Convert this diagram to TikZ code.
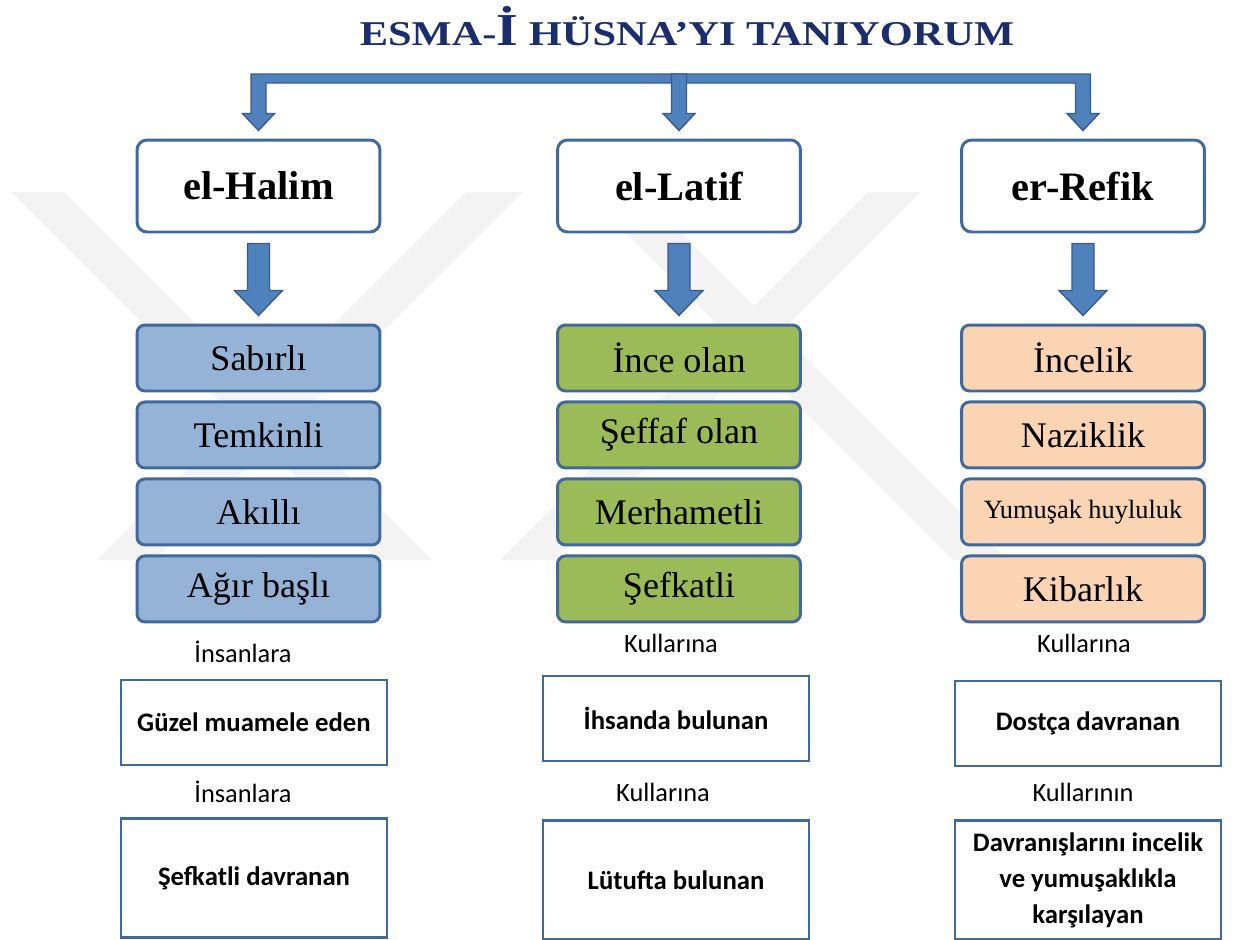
\documentclass[tikz,border=0pt]{standalone}
\usepackage{graphicx}
\usepackage{fontspec}
\setmainfont{Liberation Serif}
\newfontfamily\calibri{Carlito}
\usetikzlibrary{positioning,calc}
\definecolor{navy}{HTML}{1B2D6B}
\definecolor{accblue}{HTML}{4F81BD}
\definecolor{arrline}{HTML}{385D8A}
\definecolor{boxline}{HTML}{41699B}
\definecolor{halimfill}{HTML}{95B3D7}
\definecolor{latiffill}{HTML}{9BBB59}
\definecolor{refikfill}{HTML}{FBD4B4}
\definecolor{wmgray}{HTML}{F3F3F3}
% block arrow pointing down: top point, tip, half shaft, half head, head length
\newcommand{\blockdown}[5]{%
  \draw[blockarr] ($(#1)+(-#3,0)$) -- ($(#2)+(-#3,-#5)$) -- ($(#2)+(-#4,-#5)$) -- (#2)
    -- ($(#2)+(#4,-#5)$) -- ($(#2)+(#3,-#5)$) -- ($(#1)+(#3,0)$) -- cycle;}
\tikzset{
  titletext/.style={text=navy, font=\fontsize{19.8}{22}\selectfont\bfseries, inner sep=0pt},
  headbox/.style={draw=boxline, line width=1.7pt, fill=white, rounded corners=0.2cm,
                  minimum width=4.86cm, minimum height=1.84cm,
                  font=\fontsize{23}{26}\selectfont\bfseries},
  itembox/.style={draw=boxline, line width=1.7pt, rounded corners=0.16cm,
                  minimum width=4.86cm, minimum height=1.32cm,
                  font=\fontsize{20.5}{24}\selectfont},
  halimbox/.style={itembox, fill=halimfill},
  latifbox/.style={itembox, fill=latiffill},
  refikbox/.style={itembox, fill=refikfill},
  lbl/.style={font=\calibri\fontsize{15}{18}\selectfont, inner sep=0pt},
  rectbox/.style={draw=boxline, line width=1.4pt, fill=white, align=center,
                  minimum width=5.32cm, minimum height=1.7cm,
                  font=\calibri\bfseries\fontsize{15.2}{20.5}\selectfont},
  tallbox/.style={rectbox, minimum height=2.38cm},
  blockarr/.style={fill=accblue, draw=arrline, line width=0.8pt}}

\begin{document}
\begin{tikzpicture}[x=0.02cm, y=-0.02cm]
    \useasboundingbox (0,0) rectangle (1235,940);
    \fill[white] (0,0) rectangle (1235,940);
    % faint watermark behind the chart
    \fill[wmgray] (11,192) -- (64,192) -- (432,560) -- (379,560) -- cycle;
    \fill[wmgray] (466,192) -- (523,192) -- (154,560) -- (97,560) -- cycle;
    \fill[wmgray] (585,192) -- (640,192) -- (1008,560) -- (953,560) -- cycle;
    \fill[wmgray] (868,192) -- (921,192) -- (553,560) -- (500,560) -- cycle;

    \node[titletext, anchor=base] (title) at (687,45)
      {\scalebox{1.22}[1]{ESMA-{\fontsize{26}{26}\selectfont İ} HÜSNA’YI TANIYORUM}};

    \node[headbox] (halim) at (258.5,186) {el-Halim};
    \node[headbox] (latif) at (679,186) {el-Latif};
    \node[headbox] (refik) at (1083,186) {er-Refik};

    \node[halimbox] (sabirli) at (258.5,358) {Sabırlı};
    \node[halimbox, below=0.16cm of sabirli] (temkinli) {Temkinli};
    \node[halimbox, below=0.16cm of temkinli] (akilli) {Akıllı};
    \node[halimbox, below=0.16cm of akilli] (agir) {Ağır başlı};

    \node[latifbox] (ince) at (679,358) {İnce olan};
    \node[latifbox, below=0.16cm of ince] (seffaf) {Şeffaf olan};
    \node[latifbox, below=0.16cm of seffaf] (merhametli) {Merhametli};
    \node[latifbox, below=0.16cm of merhametli] (sefkatli) {Şefkatli};

    \node[refikbox] (incelik) at (1083,358) {İncelik};
    \node[refikbox, below=0.16cm of incelik] (naziklik) {Naziklik};
    \node[refikbox, below=0.16cm of naziklik, font=\fontsize{15}{18}\selectfont] (yumusak) {Yumuşak huyluluk};
    \node[refikbox, below=0.16cm of yumusak] (kibarlik) {Kibarlık};

    \node[lbl] (insanA) at (243,652) {İnsanlara};
    \node[rectbox] (guzel) at (254,722.5) {Güzel muamele eden};
    \node[lbl] (insanB) at (243,792) {İnsanlara};
    \node[tallbox] (sdavranan) at (254,878) {Şefkatli davranan};

    \node[lbl] (kulA) at (671,643) {Kullarına};
    \node[rectbox] (ihsan) at (676,718.5) {İhsanda bulunan};
    \node[lbl] (kulB) at (663,792) {Kullarına};
    \node[tallbox] (lutuf) at (676,880) {Lütufta bulunan};

    \node[lbl] (kulC) at (1084,643) {Kullarına};
    \node[rectbox] (dostca) at (1088,723.5) {Dostça davranan};
    \node[lbl] (kulD) at (1083,792) {Kullarının};
    \node[tallbox] (karsilayan) at (1088,880)
      {Davranışlarını incelik\\ve yumuşaklıkla\\karşılayan};

    % bracket from the title to the three names
    \coordinate (bus) at (0,78.5);
    \coordinate (tipH) at ($(halim.north)+(0,-8)$);
    \coordinate (tipL) at ($(latif.north)+(0,-8)$);
    \coordinate (tipR) at ($(refik.north)+(0,-8)$);
    \coordinate (busH) at (tipH |- bus);
    \coordinate (busR) at (tipR |- bus);
    \coordinate (busL) at ($(tipL |- bus)+(0,-4.5)$);
    \draw[blockarr] ($(busH)+(-7.5,-4.5)$) -- ($(busR)+(7.5,-4.5)$) -- ($(tipR)+(7.5,-17)$)
      -- ($(tipR)+(16,-17)$) -- (tipR) -- ($(tipR)+(-16,-17)$) -- ($(tipR)+(-7.5,-17)$)
      -- ($(busR)+(-7.5,4.5)$) -- ($(busH)+(7.5,4.5)$) -- ($(tipH)+(7.5,-17)$)
      -- ($(tipH)+(16,-17)$) -- (tipH) -- ($(tipH)+(-16,-17)$) -- ($(tipH)+(-7.5,-17)$) -- cycle;
    \blockdown{busL}{tipL}{7.5}{16}{17}

    % names down to their lists
    \coordinate (halimS) at ($(halim.south)+(0,10)$);
    \coordinate (sabirliN) at ($(sabirli.north)+(0,-8)$);
    \coordinate (latifS) at ($(latif.south)+(0,10)$);
    \coordinate (inceN) at ($(ince.north)+(0,-8)$);
    \coordinate (refikS) at ($(refik.south)+(0,10)$);
    \coordinate (incelikN) at ($(incelik.north)+(0,-8)$);
    \blockdown{halimS}{sabirliN}{11}{24}{25}
    \blockdown{latifS}{inceN}{11}{24}{25}
    \blockdown{refikS}{incelikN}{11}{24}{25}
\end{tikzpicture}
\end{document}
